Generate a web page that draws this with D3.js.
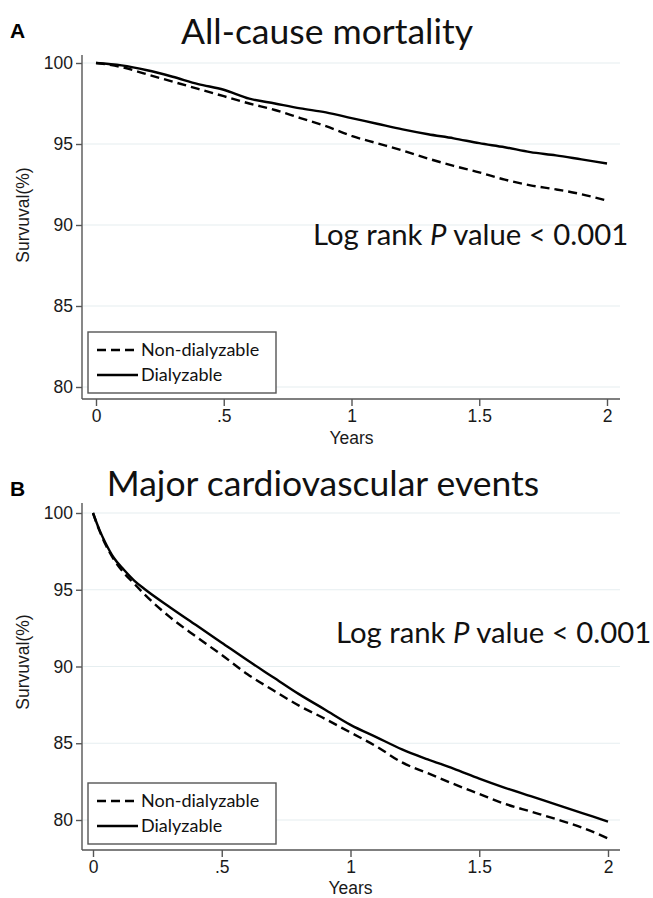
<!DOCTYPE html>
<html>
  <head>
    <meta charset="utf-8">
    <script src="https://d3js.org/d3.v7.min.js"></script>
    <title>Survival</title>
  </head>
  <body>
<style>
body {
  margin: 0;
  background-color: #fff;
}
svg {
  display: block;
}
.tick-label {
  font-family: 'Liberation Sans', Arial, sans-serif;
  font-size: 17.5px;
  fill: #1a1a1a;
}
.axis-title {
  font-family: 'Liberation Sans', Arial, sans-serif;
  font-size: 17.5px;
  fill: #1a1a1a;
}
.calibri {
  font-family: Lato, 'Open Sans', sans-serif;
  fill: #111;
}
</style>
<svg></svg>

<script type="text/javascript">
// years since start
const timeA = [0, 0.1, 0.2, 0.3, 0.4, 0.5, 0.6, 0.7, 0.8, 0.9, 1.0,
               1.1, 1.2, 1.3, 1.4, 1.5, 1.6, 1.7, 1.8, 1.9, 2.0];
const nonDialA = [100, 99.75, 99.3, 98.85, 98.4, 97.95, 97.5, 97.1, 96.6, 96.1, 95.5,
                  95.05, 94.6, 94.1, 93.65, 93.25, 92.8, 92.45, 92.2, 91.9, 91.5];
const dialA = [100, 99.85, 99.55, 99.15, 98.7, 98.35, 97.8, 97.5, 97.2, 96.95, 96.6,
               96.25, 95.9, 95.6, 95.35, 95.05, 94.8, 94.5, 94.3, 94.05, 93.8];

const timeB = [0, 0.025, 0.05, 0.08, 0.12, 0.16, 0.2, 0.3, 0.4, 0.5, 0.6, 0.7, 0.8, 0.9, 1.0,
               1.1, 1.2, 1.3, 1.4, 1.5, 1.6, 1.7, 1.8, 1.9, 2.0];
const nonDialB = [100, 98.85, 97.9, 97.0, 96.1, 95.4, 94.7, 93.2, 91.95, 90.75, 89.5, 88.45, 87.45, 86.6, 85.7,
                  84.8, 83.75, 83.05, 82.35, 81.7, 81.05, 80.55, 80.05, 79.5, 78.8];
const dialB = [100, 98.9, 98.0, 97.1, 96.3, 95.6, 95.05, 93.85, 92.7, 91.55, 90.4, 89.3, 88.2, 87.2, 86.2,
               85.4, 84.6, 83.95, 83.35, 82.7, 82.1, 81.55, 81.0, 80.45, 79.9];

const xTicks = [0, 0.5, 1, 1.5, 2];
const xTickLabels = ["0", ".5", "1", "1.5", "2"];
const yTicks = [80, 85, 90, 95, 100];
const seriesNames = ["Non-dialyzable", "Dialyzable"];

const svg = d3.select("svg")
  .attr("width", 653)
  .attr("height", 898);

const drawPanel = (p) => {
  const g = svg.append("g");

  const x = d3.scaleLinear().domain([0, 2]).range([p.x0, p.x1]);
  const y = d3.scaleLinear().domain([80, 100]).range([p.y80, p.y100]);

  // gridlines
  g.selectAll(".grid")
    .data(yTicks)
    .enter().append("line")
    .attr("x1", p.axisX + 1).attr("x2", p.axisRight)
    .attr("y1", d => y(d)).attr("y2", d => y(d))
    .attr("stroke", "#e6eef0")
    .attr("stroke-width", 1.2);

  // y axis
  const yAxis = g.append("g")
    .attr("transform", "translate(" + p.axisX + ",0)")
    .call(d3.axisLeft(y).tickValues(yTicks).tickSize(6).tickPadding(3));
  yAxis.select(".domain")
    .attr("d", "M0," + p.axisTop + "V" + p.axisY);
  // x axis
  const xAxis = g.append("g")
    .attr("transform", "translate(0," + p.axisY + ")")
    .call(d3.axisBottom(x).tickValues(xTicks).tickFormat((d, i) => xTickLabels[i]).tickSize(7).tickPadding(4));
  xAxis.select(".domain")
    .attr("d", "M" + p.axisX + ",0H" + p.axisRight);

  [yAxis, xAxis].forEach(a => {
    a.selectAll(".domain, .tick line").attr("stroke", "#555").attr("stroke-width", 1.4);
    a.selectAll("text").attr("class", "tick-label").attr("font-family", null).attr("font-size", null).attr("fill", null);
  });

  g.append("text")
    .attr("class", "axis-title")
    .attr("x", x(1))
    .attr("y", p.yearsY)
    .attr("text-anchor", "middle")
    .text("Years");

  g.append("text")
    .attr("class", "axis-title")
    .attr("transform", "translate(" + 29 + "," + p.ylabelY + ") rotate(-90)")
    .attr("text-anchor", "middle")
    .text("Survuval(%)");

  // curves
  const line = d3.line()
    .x(d => x(d[0]))
    .y(d => y(d[1]))
    .curve(d3.curveMonotoneX);

  g.append("path")
    .datum(p.time.map((t, i) => [t, p.nonDial[i]]))
    .attr("d", line)
    .attr("fill", "none")
    .attr("stroke", "#000")
    .attr("stroke-width", 2.4)
    .attr("stroke-dasharray", "9,5");

  g.append("path")
    .datum(p.time.map((t, i) => [t, p.dial[i]]))
    .attr("d", line)
    .attr("fill", "none")
    .attr("stroke", "#000")
    .attr("stroke-width", 2.4);

  // legend
  const lg = g.append("g").attr("transform", "translate(" + p.legX + "," + p.legY + ")");
  lg.append("rect")
    .attr("width", 188).attr("height", 61)
    .attr("fill", "#fff")
    .attr("stroke", "#555")
    .attr("stroke-width", 1.4);
  seriesNames.forEach((name, i) => {
    const ly = 18 + i * 25;
    lg.append("line")
      .attr("x1", 9).attr("x2", 50)
      .attr("y1", ly).attr("y2", ly)
      .attr("stroke", "#000")
      .attr("stroke-width", 2.4)
      .attr("stroke-dasharray", i == 0 ? "9,5" : null);
    lg.append("text")
      .attr("class", "calibri")
      .attr("x", 53).attr("y", ly + 6)
      .attr("font-size", 18)
      .text(name);
  });

  // titles
  g.append("text")
    .attr("x", 10).attr("y", p.letterY)
    .attr("font-family", "'Liberation Sans', Arial, sans-serif")
    .attr("font-weight", "bold")
    .attr("font-size", 21)
    .text(p.letter);

  g.append("text")
    .attr("class", "calibri")
    .attr("x", p.titleX).attr("y", p.titleY)
    .attr("text-anchor", "middle")
    .attr("font-size", 35.5)
    .text(p.title);

  const lr = g.append("text")
    .attr("class", "calibri")
    .attr("x", p.lrX).attr("y", p.lrY)
    .attr("font-size", 29.3);
  lr.append("tspan").text("Log rank ");
  lr.append("tspan").attr("font-style", "italic").text("P");
  lr.append("tspan").text(" value < 0.001");
};

drawPanel({
  letter: "A", title: "All-cause mortality",
  time: timeA, nonDial: nonDialA, dial: dialA,
  x0: 96, x1: 607, y80: 387, y100: 63,
  axisX: 82, axisY: 399, axisTop: 55, axisRight: 620,
  legX: 88, legY: 332, letterY: 38, titleX: 327, titleY: 44,
  lrX: 313, lrY: 245, ylabelY: 215, yearsY: 444
});

drawPanel({
  letter: "B", title: "Major cardiovascular events",
  time: timeB, nonDial: nonDialB, dial: dialB,
  x0: 93, x1: 608, y80: 820, y100: 513,
  axisX: 82, axisY: 850, axisTop: 503, axisRight: 620,
  legX: 88, legY: 783, letterY: 496, titleX: 323, titleY: 496,
  lrX: 336, lrY: 643, ylabelY: 662, yearsY: 894
});
</script>
  </body>
</html>
